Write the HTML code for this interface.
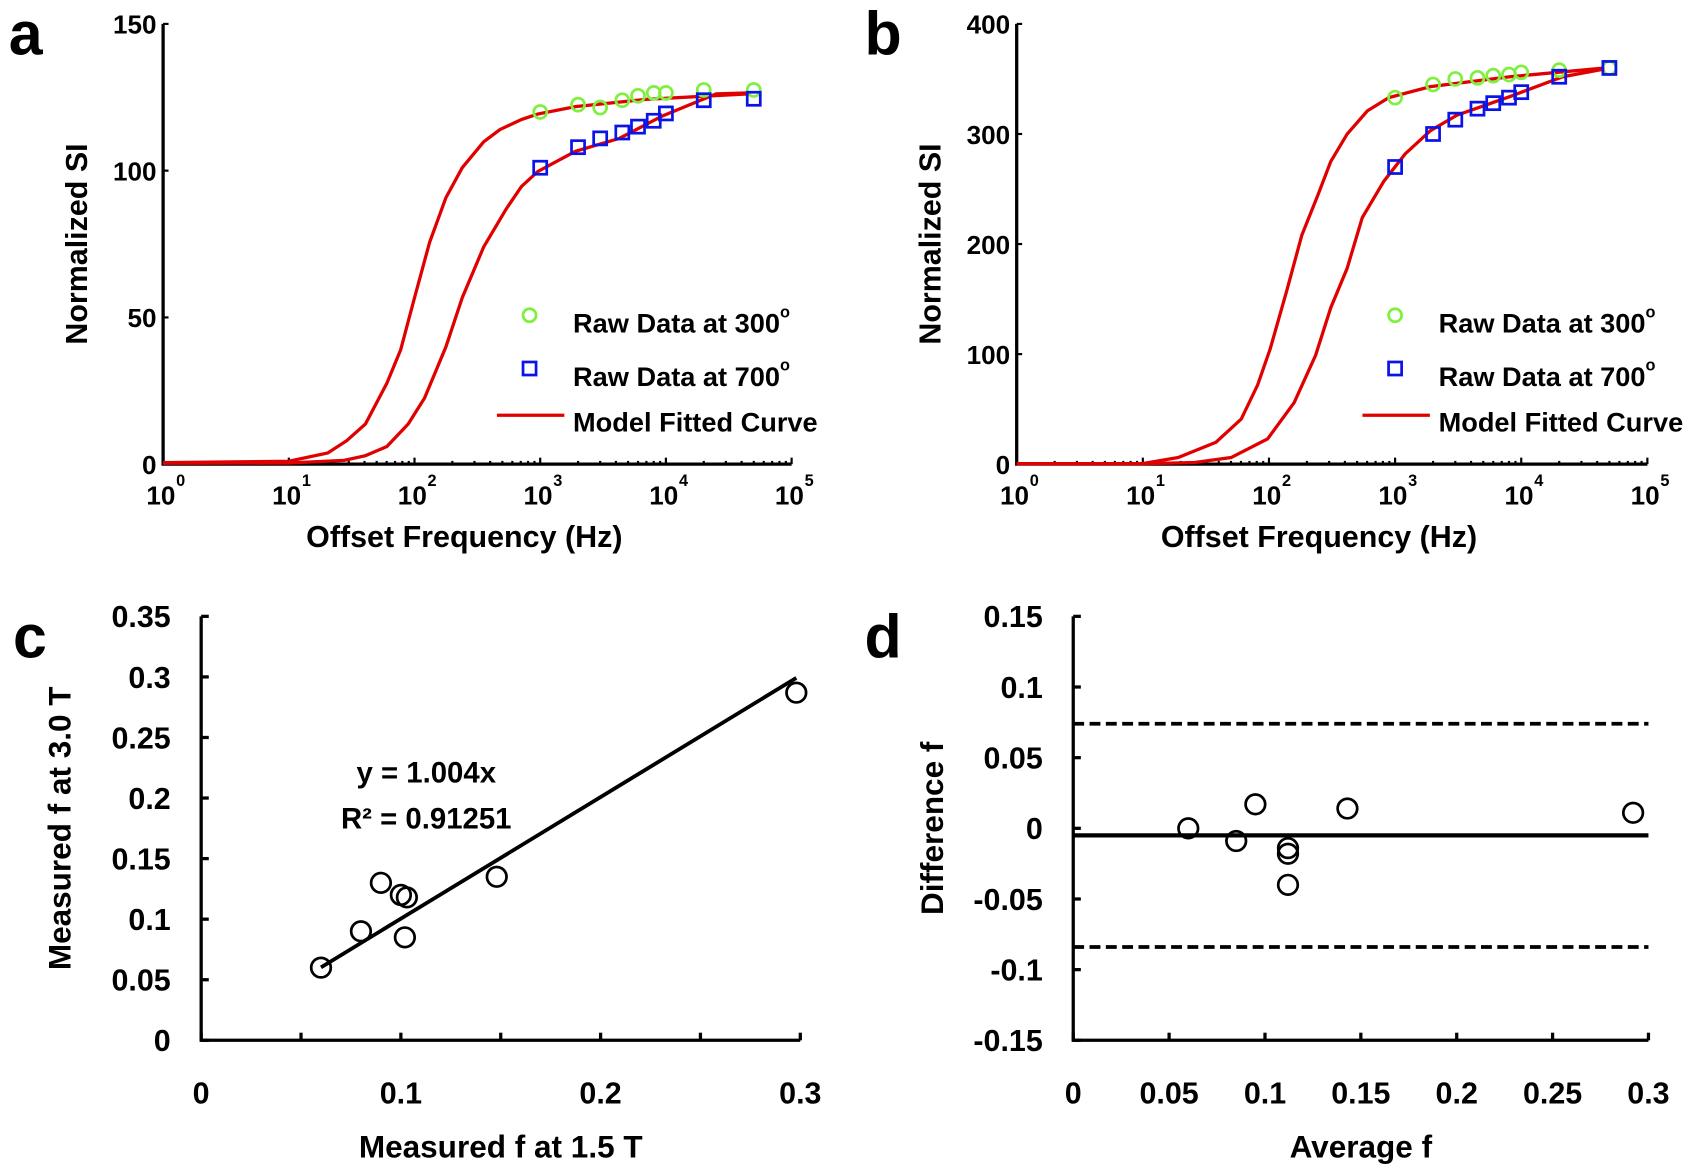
<!DOCTYPE html>
<html><head><meta charset="utf-8"><style>
html,body{margin:0;padding:0;background:#fff}
svg{display:block}
text{font-family:"Liberation Sans",sans-serif;font-weight:bold;fill:#000}
</style></head><body>
<svg id="fig" width="1705" height="1174" viewBox="0 0 1568 1080" preserveAspectRatio="none" xmlns="http://www.w3.org/2000/svg"></svg>
<script>
// Panel a data
const freqs = [1000,2000,3000,4500,6000,8000,10000,20000,50000];
const a300 = [120,122.5,121.5,124,125.5,126.5,126.5,127.5,127.5];
const a700 = [101,108,111,113,115,117,119.5,124,124.5];
const aFitLogF1 = [0,1,1.31,1.46,1.61,1.78,1.89,2.0,2.12,2.25,2.38,2.55,2.68,2.85,2.98,3.28,3.84,4.66];
const aFitVal1 = [0.5,1,3.8,8,13.7,27.6,39,56.7,75.6,90.8,101,109.8,114,117.4,119.3,121.8,124.3,126.2];
const aFitLogF2 = [0,1,1.44,1.61,1.78,1.95,2.08,2.25,2.38,2.55,2.73,2.85,2.98,3.28,3.63,3.97,4.4,4.66];
const aFitVal2 = [0.3,0.4,1.3,2.9,6,13.7,22.5,40,56.7,74,87,94.6,99.7,106.6,111,118.6,126.2,126.5];
// Panel b data
const b300 = [333,345,350,351,353,354,356,358,360];
const b700 = [270,300,313,323,328,333,338,352,360];
const bFitLogF1 = [0,1,1.28,1.58,1.78,1.91,2.01,2.14,2.26,2.39,2.49,2.62,2.78,2.95,3.28,3.91,4.66];
const bFitVal1 = [0.5,0.6,6,20,41,72,105,157,208,245,275,300,321,333,343,352,360];
const bFitLogF2 = [0,1,1.41,1.7,1.99,2.2,2.37,2.49,2.62,2.74,2.91,3.08,3.28,3.49,3.91,4.33,4.66];
const bFitVal2 = [0.3,0.4,1.5,6,23,56,99,142,178,224,257,282,303,317,334,352,359];
// Panel c data
const cX = [0.06,0.08,0.09,0.10,0.103,0.102,0.148,0.298];
const cY = [0.06,0.09,0.13,0.12,0.118,0.085,0.135,0.287];
const cSlope = [1.004];
// Panel d data
const dX = [0.06,0.085,0.095,0.112,0.112,0.112,0.143,0.292];
const dY = [0.000,-0.009,0.017,-0.014,-0.018,-0.040,0.014,0.011];
const dMean = [-0.005];
const dLimits = [0.074,-0.084];

const NS="http://www.w3.org/2000/svg";
const svg=document.getElementById('fig');
function mk(tag,attrs,parent,txt){const e=document.createElementNS(NS,tag);for(const k in attrs)e.setAttribute(k,attrs[k]);if(txt!==undefined)e.textContent=txt;(parent||svg).appendChild(e);return e;}

function logPanel(id,L,R,T,B,ymax,ystep,d300,d700,f1x,f1y,f2x,f2y,legX,letter,letterX){
  const g=mk('g',{});
  
  
  const sx=lf=>L+(R-L)*lf/5, sy=v=>B-(B-T)*v/ymax;
  const lt=mk('text',{x:letterX,y:50,'font-size':56},g,letter);
  
  const ax=mk('path',{d:`M${L},${T}V${B}H${R}`,stroke:'#000','stroke-width':3,fill:'none'},g);
  
  for(let v=0;v<=ymax;v+=ystep){
    mk('line',{x1:L,x2:L+5,y1:sy(v),y2:sy(v),stroke:'#000','stroke-width':2},g);
    const t=mk('text',{x:L-6,y:sy(v)+9,'font-size':24,'text-anchor':'end'},g,String(v));
    
  }
  for(let dcd=0;dcd<=5;dcd++){
    const x=sx(dcd);
    mk('line',{x1:x,x2:x,y1:B,y2:B-6,stroke:'#000','stroke-width':2},g);
    const t=mk('text',{x:x-2,y:B+37,'font-size':24,'text-anchor':'middle'},g,'10');
    
    mk('text',{x:x+12,y:B+20,'font-size':15},g,String(dcd));
    if(dcd<5)for(let m=2;m<10;m++){const xm=sx(dcd+Math.log10(m));mk('line',{x1:xm,x2:xm,y1:B,y2:B-3,stroke:'#000','stroke-width':2},g);}
  }
  const xt=mk('text',{x:(L+R)/2-12,y:B+76,'font-size':28,'text-anchor':'middle'},g,'Offset Frequency (Hz)');
  
  const yt=mk('text',{x:0,y:0,'font-size':28,'text-anchor':'middle',transform:`translate(${L-70},${(T+B)/2}) rotate(-90)`},g,'Normalized SI');
  
  [[f1x,f1y],[f2x,f2y]].forEach((c,i)=>{
    const p=c[0].map((lf,j)=>`${j?'L':'M'}${sx(lf).toFixed(1)},${sy(c[1][j]).toFixed(1)}`).join('');
    const pe=mk('path',{d:p,stroke:'#e00000','stroke-width':3,fill:'none'},g);
    
  });
  freqs.forEach((f,i)=>{
    const x=sx(Math.log10(f));
    const c=mk('circle',{cx:x,cy:sy(d300[i]),r:6,stroke:'#80f040','stroke-width':2.5,fill:'none'},g);
    
    const s=mk('rect',{x:x-6,y:sy(d700[i])-6,width:12,height:12,stroke:'#0a14e6','stroke-width':2.5,fill:'none'},g);
    
  });
  const lg=mk('g',{},g);
  mk('circle',{cx:legX,cy:T+268,r:6,stroke:'#80f040','stroke-width':2.5,fill:'none'},lg);
  const t1=mk('text',{x:legX+40,y:T+284,'font-size':25},lg,'Raw Data at 300');
  mk('tspan',{'font-size':15,dy:-14},t1,'o');
  mk('rect',{x:legX-6,y:T+311,width:12,height:12,stroke:'#0a14e6','stroke-width':2.5,fill:'none'},lg);
  const t2=mk('text',{x:legX+40,y:T+333,'font-size':25},lg,'Raw Data at 700');
  mk('tspan',{'font-size':15,dy:-14},t2,'o');
  mk('line',{x1:legX-30,x2:legX+32,y1:T+360,y2:T+360,stroke:'#e00000','stroke-width':3},lg);
  mk('text',{x:legX+40,y:T+375,'font-size':25},lg,'Model Fitted Curve');
}
logPanel('a',150,728,22,427,150,50,a300,a700,aFitLogF1,aFitVal1,aFitLogF2,aFitVal2,487,'a',8);
logPanel('b',935,1515,22,427,400,100,b300,b700,bFitLogF1,bFitVal1,bFitLogF2,bFitVal2,1283,'b',795);

function linPanel(id,L,R,T,B,xmin,xmax,xstep,xlab,ymin,ymax,ystep,ylab,letter,letterX,xTitle,yTitle){
  const g=mk('g',{});
  const sx=v=>L+(R-L)*(v-xmin)/(xmax-xmin), sy=v=>B-(B-T)*(v-ymin)/(ymax-ymin);
  const lt=mk('text',{x:letterX,y:605,'font-size':56},g,letter);
  
  const ax=mk('path',{d:`M${L},${T}V${B}H${R}`,stroke:'#000','stroke-width':3,fill:'none'},g);
  
  const ny=Math.round((ymax-ymin)/ystep);
  for(let i=0;i<=ny;i++){const v=ymin+i*ystep;
    mk('line',{x1:L,x2:L+7,y1:sy(v),y2:sy(v),stroke:'#000','stroke-width':3},g);
    const t=mk('text',{x:L-28,y:sy(v)+10,'font-size':28,'text-anchor':'end'},g,ylab[i]);
    }
  const nx=Math.round((xmax-xmin)/xstep);
  for(let i=0;i<=nx;i++){const v=xmin+i*xstep;
    mk('line',{x1:sx(v),x2:sx(v),y1:B,y2:B-7,stroke:'#000','stroke-width':3},g);
    if(xlab[i]){const t=mk('text',{x:sx(v),y:B+58,'font-size':28,'text-anchor':'middle'},g,xlab[i]);
    }}
  const xt=mk('text',{x:(L+R)/2,y:B+108,'font-size':29,'text-anchor':'middle'},g,xTitle);
  
  const yt=mk('text',{x:0,y:0,'font-size':29,'text-anchor':'middle',transform:`translate(${L-120},${(T+B)/2}) rotate(-90)`},g,yTitle);
  
  return {g,sx,sy};
}
const c=linPanel('c',185,736,567,957,0,0.3,0.05,['0','','0.1','','0.2','','0.3'],0,0.35,0.05,['0','0.05','0.1','0.15','0.2','0.25','0.3','0.35'],'c',12,'Measured f at 1.5 T','Measured f at 3.0 T');
const fl=mk('line',{x1:c.sx(0.06),y1:c.sy(0.06*cSlope[0]),x2:c.sx(0.298),y2:c.sy(0.298*cSlope[0]),stroke:'#000','stroke-width':3.5},c.g);

cX.forEach((x,i)=>{const p=mk('circle',{cx:c.sx(x),cy:c.sy(cY[i]),r:9,stroke:'#000','stroke-width':2.5,fill:'none'},c.g);
});
const eq=mk('text',{x:392,y:720,'font-size':27,'text-anchor':'middle'},c.g,'y = 1.004x');

const r2=mk('text',{x:392,y:762,'font-size':27,'text-anchor':'middle'},c.g,'R² = 0.91251');


const d=linPanel('d',987,1516,567,957,0,0.3,0.05,['0','0.05','0.1','0.15','0.2','0.25','0.3'],-0.15,0.15,0.05,['-0.15','-0.1','-0.05','0','0.05','0.1','0.15'],'d',795,'Average f','Difference f');
const ml=mk('line',{x1:987,x2:1516,y1:d.sy(dMean[0]),y2:d.sy(dMean[0]),stroke:'#000','stroke-width':4},d.g);

dLimits.forEach(v=>{const l=mk('line',{x1:987,x2:1516,y1:d.sy(v),y2:d.sy(v),stroke:'#000','stroke-width':3.5,'stroke-dasharray':'10,5'},d.g);
});
dX.forEach((x,i)=>{const p=mk('circle',{cx:d.sx(x),cy:d.sy(dY[i]),r:9,stroke:'#000','stroke-width':2.5,fill:'none'},d.g);
});
</script>
</body></html>
